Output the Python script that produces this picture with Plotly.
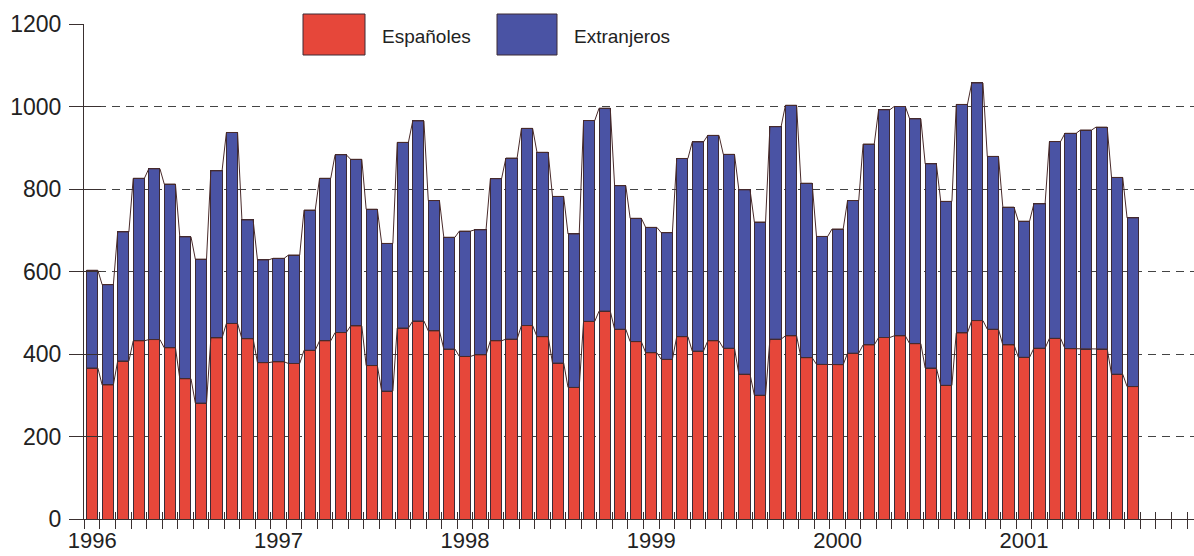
import plotly.graph_objects as go

# ---- data ----
years = ["1996", "1997", "1998", "1999", "2000", "2001"]
months = [f"{y}-{m:02d}" for y in range(1996, 2002) for m in range(1, 13)][:68]

espanoles = [366, 325, 383, 432, 435, 415, 340, 281, 439, 474, 437, 379,
             381, 377, 409, 432, 452, 468, 372, 310, 463, 480, 456, 412,
             394, 398, 432, 436, 469, 442, 378, 319, 479, 504, 460, 430,
             403, 387, 442, 407, 432, 414, 351, 300, 436, 444, 391, 375,
             374, 402, 422, 440, 444, 425, 366, 324, 451, 481, 460, 422,
             392, 414, 438, 413, 412, 412, 351, 321]
extranjeros = [237, 243, 313, 394, 414, 397, 344, 349, 405, 463, 288, 249,
               251, 263, 340, 394, 431, 404, 379, 358, 450, 485, 316, 271,
               304, 303, 393, 439, 478, 447, 404, 372, 487, 492, 348, 299,
               304, 307, 432, 507, 498, 470, 447, 420, 515, 559, 423, 310,
               329, 370, 487, 552, 556, 545, 495, 446, 554, 576, 419, 334,
               330, 350, 477, 522, 531, 538, 477, 409]
y_ticks = [0, 200, 400, 600, 800, 1000, 1200]
grid_vals = [200, 400, 600, 800, 1000]
legend_names = ["Españoles", "Extranjeros"]

# ---- styling ----
RED = "#E6473A"
BLUE = "#4A53A4"
EDGE = "#3c2a35"
AXIS = "#3a3030"
FONT = "Liberation Sans, Arial, sans-serif"
BAR_W = 0.72

n = len(months)
x = list(range(n))
totals = [a + b for a, b in zip(espanoles, extranjeros)]

def outline(vals):
    xs, ys = [], []
    for i, v in zip(x, vals):
        xs += [i - BAR_W / 2, i + BAR_W / 2]
        ys += [v, v]
    return xs, ys

fig = go.Figure()
fig.add_trace(go.Bar(x=x, y=espanoles, name=legend_names[0], width=BAR_W,
                     marker=dict(color=RED, line=dict(color=EDGE, width=1)),
                     customdata=months, showlegend=False))
fig.add_trace(go.Bar(x=x, y=extranjeros, name=legend_names[1], width=BAR_W,
                     marker=dict(color=BLUE, line=dict(color=EDGE, width=1)),
                     customdata=months, showlegend=False))
for vals in (espanoles, totals):
    lx, ly = outline(vals)
    fig.add_trace(go.Scatter(x=lx, y=ly, mode="lines",
                             line=dict(color="#4a2b2b", width=1),
                             hoverinfo="skip", showlegend=False))
# empty traces to host the overlay axes (tick marks / grid)
fig.add_trace(go.Scatter(x=[], y=[], xaxis="x2", yaxis="y2", showlegend=False))
fig.add_trace(go.Scatter(x=[], y=[], xaxis="x3", yaxis="y3", showlegend=False))

xr = [-0.53, 70.95]
yr = [0, 1200]
bounds = [i + 0.5 for i in range(-1, 71)]
common = dict(automargin=False, zeroline=False, showgrid=False)

fig.update_layout(
    width=1194, height=556,
    margin=dict(l=84, r=0, t=24, b=37),
    paper_bgcolor="white", plot_bgcolor="white",
    barmode="stack", bargap=0.28,
    font=dict(family=FONT, color="#222", size=22),
    xaxis=dict(range=xr, tickvals=[12 * k for k in range(len(years))],
               ticktext=years, ticks="", showline=True, linecolor=AXIS,
               linewidth=1.2, tickfont=dict(size=22), ticklabelstandoff=1,
               **common),
    xaxis2=dict(range=xr, overlaying="x", anchor="y2", tickvals=bounds,
                ticks="outside", ticklen=9, tickcolor=AXIS, tickwidth=1,
                showticklabels=False, showline=False, **common),
    xaxis3=dict(range=xr, overlaying="x", anchor="y3", tickvals=bounds,
                ticks="inside", ticklen=7, tickcolor=AXIS, tickwidth=1,
                showticklabels=False, showline=False, **common),
    yaxis=dict(range=yr, tickvals=y_ticks, ticks="outside", ticklen=14,
               tickcolor=AXIS, showline=True, linecolor=AXIS, linewidth=1.2,
               tickfont=dict(size=23), ticklabelstandoff=3, **common),
    yaxis2=dict(range=yr, overlaying="y", anchor="x2", tickvals=y_ticks,
                ticks="inside", ticklen=17, tickcolor=AXIS,
                showticklabels=False, showline=False, **common),
    yaxis3=dict(range=yr, overlaying="y", anchor="x3", tickvals=grid_vals,
                ticks="", showticklabels=False, showline=False,
                showgrid=True, gridcolor="#444", gridwidth=1,
                griddash="8px,6px", zeroline=False, automargin=False),
)

# legend drawn as large swatches like the original
def px_x(p):
    return (p - 84) / 1110
def px_y(p):
    return (519 - p) / 495

for (x0, x1, col, label, tx) in [(303, 365, RED, legend_names[0], 380),
                                 (497, 557, BLUE, legend_names[1], 572)]:
    fig.add_shape(type="rect", xref="paper", yref="paper",
                  x0=px_x(x0), x1=px_x(x1), y0=px_y(55), y1=px_y(14),
                  fillcolor=col, line=dict(color=EDGE, width=1))
    fig.add_annotation(xref="paper", yref="paper", x=px_x(tx), y=px_y(36),
                       text=label, showarrow=False, xanchor="left",
                       yanchor="middle", font=dict(size=19, color="#222"))

fig.write_html("out.html", config={"displayModeBar": False},
               post_script="document.body.style.margin='0px';")
